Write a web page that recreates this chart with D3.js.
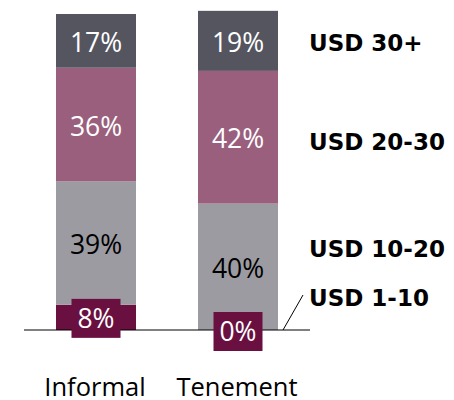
<!DOCTYPE html>
<html><head><meta charset="utf-8">
<script src="https://cdn.jsdelivr.net/npm/d3@7"></script>
<style>body{margin:0;background:#fff}svg{display:block}</style>
</head><body>
<svg id="c" width="454" height="400"></svg>
<script>
const categories = ["Informal", "Tenement"];
const seriesKeys = ["USD 1-10", "USD 10-20", "USD 20-30", "USD 30+"];
const usd1to10 = [8, 0];
const usd10to20 = [39, 40];
const usd20to30 = [36, 42];
const usd30plus = [17, 19];

const colors = {"USD 1-10": "#6a1040", "USD 10-20": "#9c9ba1", "USD 20-30": "#9a5f7d", "USD 30+": "#55555f"};
const textColors = {"USD 1-10": "#fff", "USD 10-20": "#000", "USD 20-30": "#fff", "USD 30+": "#fff"};

const rows = categories.map((c, i) => ({
  cat: c,
  "USD 1-10": usd1to10[i],
  "USD 10-20": usd10to20[i],
  "USD 20-30": usd20to30[i],
  "USD 30+": usd30plus[i]
}));

const svg = d3.select("#c");
const x = d3.scaleBand().domain(categories).range([56, 278]).paddingInner(62 / 142).paddingOuter(0);
const y = d3.scaleLinear().domain([0, 100]).range([330, 14]);

const stacked = d3.stack().keys(seriesKeys)(rows);
const font = "'Open Sans', sans-serif";

const layers = svg.selectAll("g.layer").data(stacked).join("g").attr("class", "layer")
  .attr("fill", d => colors[d.key]);
layers.selectAll("rect").data(d => d).join("rect")
  .attr("x", d => x(d.data.cat))
  .attr("width", x.bandwidth())
  .attr("y", d => y(d[1]))
  .attr("height", d => y(d[0]) - y(d[1]));

// baseline
svg.append("line").attr("x1", 24).attr("x2", 310).attr("y1", y(0)).attr("y2", y(0))
  .attr("stroke", "#000").attr("stroke-width", 1);

// value labels
stacked.forEach(layer => {
  layer.forEach(d => {
    const cx = x(d.data.cat) + x.bandwidth() / 2;
    let cy = (y(d[0]) + y(d[1])) / 2;
    const v = d[1] - d[0];
    if (layer.key === "USD 1-10") {
      cy += (v === 0 ? 1.5 : 1);
      svg.append("rect").attr("x", cx - 24.5).attr("y", cy - 19.5)
        .attr("width", 49).attr("height", 39).attr("fill", colors[layer.key]);
    } else {
      cy += 1.5;
    }
    svg.append("text").attr("x", cx).attr("y", cy + 9.5)
      .attr("text-anchor", "middle")
      .attr("font-family", font).attr("font-size", 26.5)
      .attr("fill", textColors[layer.key]).text(v + "%");
  });
});

// series labels on the right
const last = stacked.map(l => l[l.length - 1]);
const offsets = {"USD 1-10": -24, "USD 10-20": -10, "USD 20-30": 12.5, "USD 30+": 10};
last.forEach((d, i) => {
  const key = stacked[i].key;
  const cy = (y(d[0]) + y(d[1])) / 2 + offsets[key];
  svg.append("text").attr("x", 309).attr("y", cy)
    .attr("font-family", "'DejaVu Sans', sans-serif").attr("font-size", 23).attr("font-weight", "bold")
    .attr("fill", "#000").text(key);
});

// leader line for USD 1-10
svg.append("line").attr("x1", 283).attr("y1", y(0)).attr("x2", 303).attr("y2", y(0) - 35)
  .attr("stroke", "#000").attr("stroke-width", 1);

// category labels
svg.selectAll("text.cat").data(categories).join("text").attr("class", "cat")
  .attr("x", d => x(d) + x.bandwidth() / 2 - 1).attr("y", 396)
  .attr("text-anchor", "middle").attr("font-family", font).attr("font-size", 25.5)
  .attr("fill", "#000").text(d => d);
</script>
</body></html>
